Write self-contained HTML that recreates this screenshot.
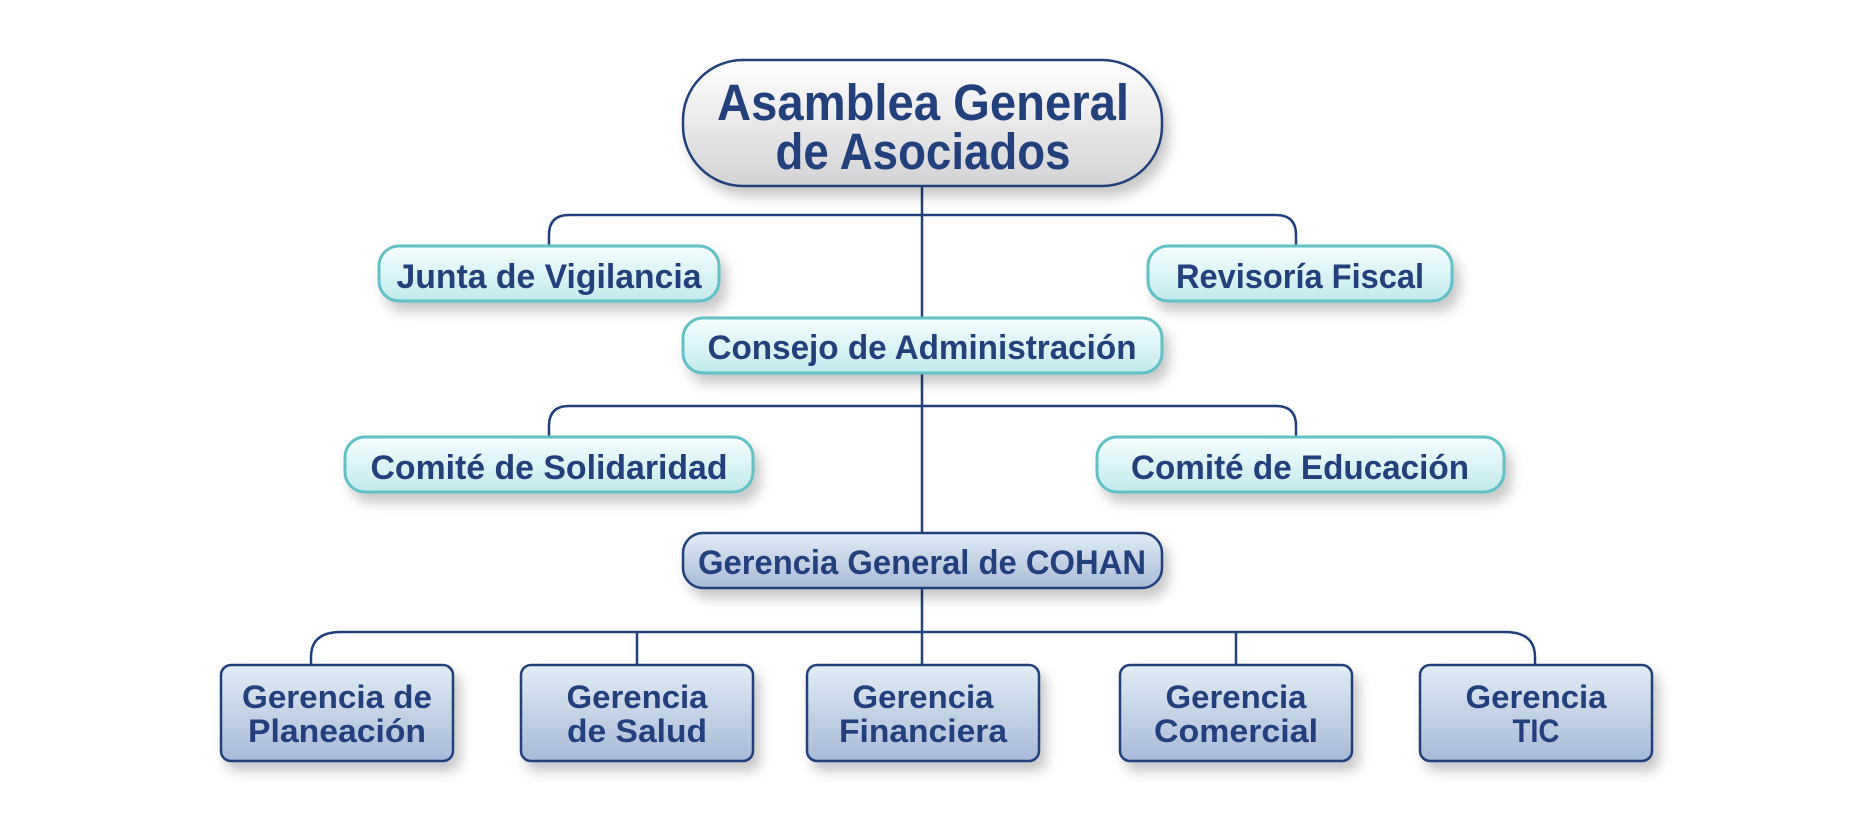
<!DOCTYPE html>
<html><head><meta charset="utf-8"><style>
html,body{margin:0;padding:0;background:#fff;}
svg{display:block;}
text{font-family:"Liberation Sans",sans-serif;font-weight:bold;fill:#22407c;text-anchor:middle;}
</style></head><body>
<svg width="1873" height="823" viewBox="0 0 1873 823" xmlns="http://www.w3.org/2000/svg">
<defs>
<linearGradient id="g1" x1="0" y1="0" x2="0" y2="1"><stop offset="0" stop-color="#ffffff"/><stop offset="1" stop-color="#d3d3d5"/></linearGradient>
<linearGradient id="g2" x1="0" y1="0" x2="0" y2="1"><stop offset="0" stop-color="#f6fdfd"/><stop offset="1" stop-color="#c2eaec"/></linearGradient>
<linearGradient id="g3" x1="0" y1="0" x2="0" y2="1"><stop offset="0" stop-color="#e2ecf6"/><stop offset="1" stop-color="#a8bad6"/></linearGradient>
<filter id="sh" x="-20%" y="-30%" width="140%" height="180%"><feDropShadow dx="6" dy="9" stdDeviation="6" flood-color="#000" flood-opacity="0.22"/></filter>
</defs>
<g fill="none" stroke="#22407c" stroke-width="2.5">
<line x1="922" y1="186" x2="922" y2="318"/>
<line x1="922" y1="373" x2="922" y2="533"/>
<line x1="922" y1="588" x2="922" y2="665"/>
<path d="M549 246 V235 Q549 215 569 215 H1276 Q1296 215 1296 235 V246"/>
<path d="M549 437 V426 Q549 406 569 406 H1276 Q1296 406 1296 426 V437"/>
<path d="M311 665 V657 Q311 632 341 632 H1505 Q1535 632 1535 657 V665"/>
<line x1="637" y1="632" x2="637" y2="665"/>
<line x1="1236" y1="632" x2="1236" y2="665"/>
</g>
<g filter="url(#sh)">
<rect x="683" y="60" width="479" height="126" rx="60" fill="url(#g1)" stroke="#22407c" stroke-width="2.5"/>
<g fill="url(#g2)" stroke="#62c1c5" stroke-width="3">
<rect x="379" y="246" width="340" height="55" rx="20"/>
<rect x="1148" y="246" width="304" height="55" rx="20"/>
<rect x="683" y="318" width="479" height="55" rx="20"/>
<rect x="345" y="437" width="408" height="55" rx="20"/>
<rect x="1097" y="437" width="407" height="55" rx="20"/>
</g>
<g fill="url(#g3)" stroke="#22407c" stroke-width="2.5">
<rect x="683" y="533" width="479" height="55" rx="20"/>
<rect x="221" y="665" width="232" height="96" rx="10"/>
<rect x="521" y="665" width="232" height="96" rx="10"/>
<rect x="807" y="665" width="232" height="96" rx="10"/>
<rect x="1120" y="665" width="232" height="96" rx="10"/>
<rect x="1420" y="665" width="232" height="96" rx="10"/>
</g>
</g>
<text x="923" y="120" font-size="51" textLength="412" lengthAdjust="spacingAndGlyphs">Asamblea General</text>
<text x="923" y="169" font-size="51" textLength="295" lengthAdjust="spacingAndGlyphs">de Asociados</text>
<text x="549" y="288" font-size="34" textLength="305" lengthAdjust="spacingAndGlyphs">Junta de Vigilancia</text>
<text x="1300" y="288" font-size="34" textLength="248" lengthAdjust="spacingAndGlyphs">Revisoría Fiscal</text>
<text x="922" y="359" font-size="34" textLength="429" lengthAdjust="spacingAndGlyphs">Consejo de Administración</text>
<text x="549" y="479" font-size="34" textLength="357" lengthAdjust="spacingAndGlyphs">Comité de Solidaridad</text>
<text x="1300" y="479" font-size="34" textLength="338" lengthAdjust="spacingAndGlyphs">Comité de Educación</text>
<text x="922" y="574" font-size="34" textLength="448" lengthAdjust="spacingAndGlyphs">Gerencia General de COHAN</text>
<g font-size="32">
<text x="337" y="708" textLength="190" lengthAdjust="spacingAndGlyphs">Gerencia de</text>
<text x="337" y="742" textLength="178" lengthAdjust="spacingAndGlyphs">Planeación</text>
<text x="637" y="708" textLength="141" lengthAdjust="spacingAndGlyphs">Gerencia</text>
<text x="637" y="742" textLength="140" lengthAdjust="spacingAndGlyphs">de Salud</text>
<text x="923" y="708" textLength="141" lengthAdjust="spacingAndGlyphs">Gerencia</text>
<text x="923" y="742" textLength="168" lengthAdjust="spacingAndGlyphs">Financiera</text>
<text x="1236" y="708" textLength="141" lengthAdjust="spacingAndGlyphs">Gerencia</text>
<text x="1236" y="742" textLength="164" lengthAdjust="spacingAndGlyphs">Comercial</text>
<text x="1536" y="708" textLength="141" lengthAdjust="spacingAndGlyphs">Gerencia</text>
<text x="1536" y="742" textLength="47" lengthAdjust="spacingAndGlyphs">TIC</text>
</g>
</svg>
</body></html>
